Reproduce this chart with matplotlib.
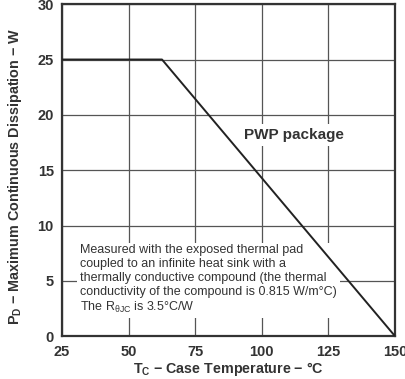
import matplotlib.pyplot as plt

plt.rcParams['font.family'] = ['Liberation Sans', 'DejaVu Sans']

# derating curve: flat at 25 W until the knee, then down to 0 W at 150 C
case_temp = [25, 62.5, 150]
power = [25, 25, 0]

x_ticks = [25, 50, 75, 100, 125, 150]
y_ticks = [0, 5, 10, 15, 20, 25, 30]

note = ('Measured with the exposed thermal pad\n'
        'coupled to an infinite heat sink with a\n'
        'thermally conductive compound (the thermal\n'
        'conductivity of the compound is 0.815 W/m\u00b0C)\n'
        'The R$_\\mathregular{\u03b8JC}$ is 3.5\u00b0C/W')

fig = plt.figure(figsize=(4.06, 3.79), dpi=100)
ax = fig.add_axes([0.153, 0.113, 0.820, 0.876])

ax.plot(case_temp, power, color='#222222', lw=1.4, zorder=3)

ax.set_xlim(25, 150)
ax.set_ylim(0, 30)
ax.set_xticks(x_ticks)
ax.set_yticks(y_ticks)
ax.grid(True, color='#555555', lw=0.9, zorder=0)
ax.set_axisbelow(True)
for s in ax.spines.values():
    s.set_linewidth(1.6)
    s.set_color('#333333')
ax.tick_params(length=0, pad=6, labelsize=10.5, labelcolor='#333333')
for lab in ax.get_xticklabels() + ax.get_yticklabels():
    lab.set_fontweight('bold')

ax.set_xlabel('T$_\\mathregular{C}$ \u2212 Case Temperature \u2212 \u00b0C',
              fontsize=10.3, fontweight='bold', color='#333333', labelpad=1)
ax.set_ylabel('P$_\\mathregular{D}$ \u2212 Maximum Continuous Dissipation \u2212 W',
              fontsize=10.4, fontweight='bold', color='#333333')
ax.yaxis.set_label_coords(-0.115, 0.482)

ax.text(93.3, 18.2, 'PWP package', fontsize=11, fontweight='bold', color='#333333',
        va='center', ha='left', zorder=4,
        bbox=dict(facecolor='white', edgecolor='none', pad=3))

ax.text(31.8, 8.3, note, fontsize=9, color='#333333', va='top', ha='left',
        linespacing=1.2, zorder=2,
        bbox=dict(facecolor='white', edgecolor='none', pad=2))

fig.savefig('out.png', dpi=100)
